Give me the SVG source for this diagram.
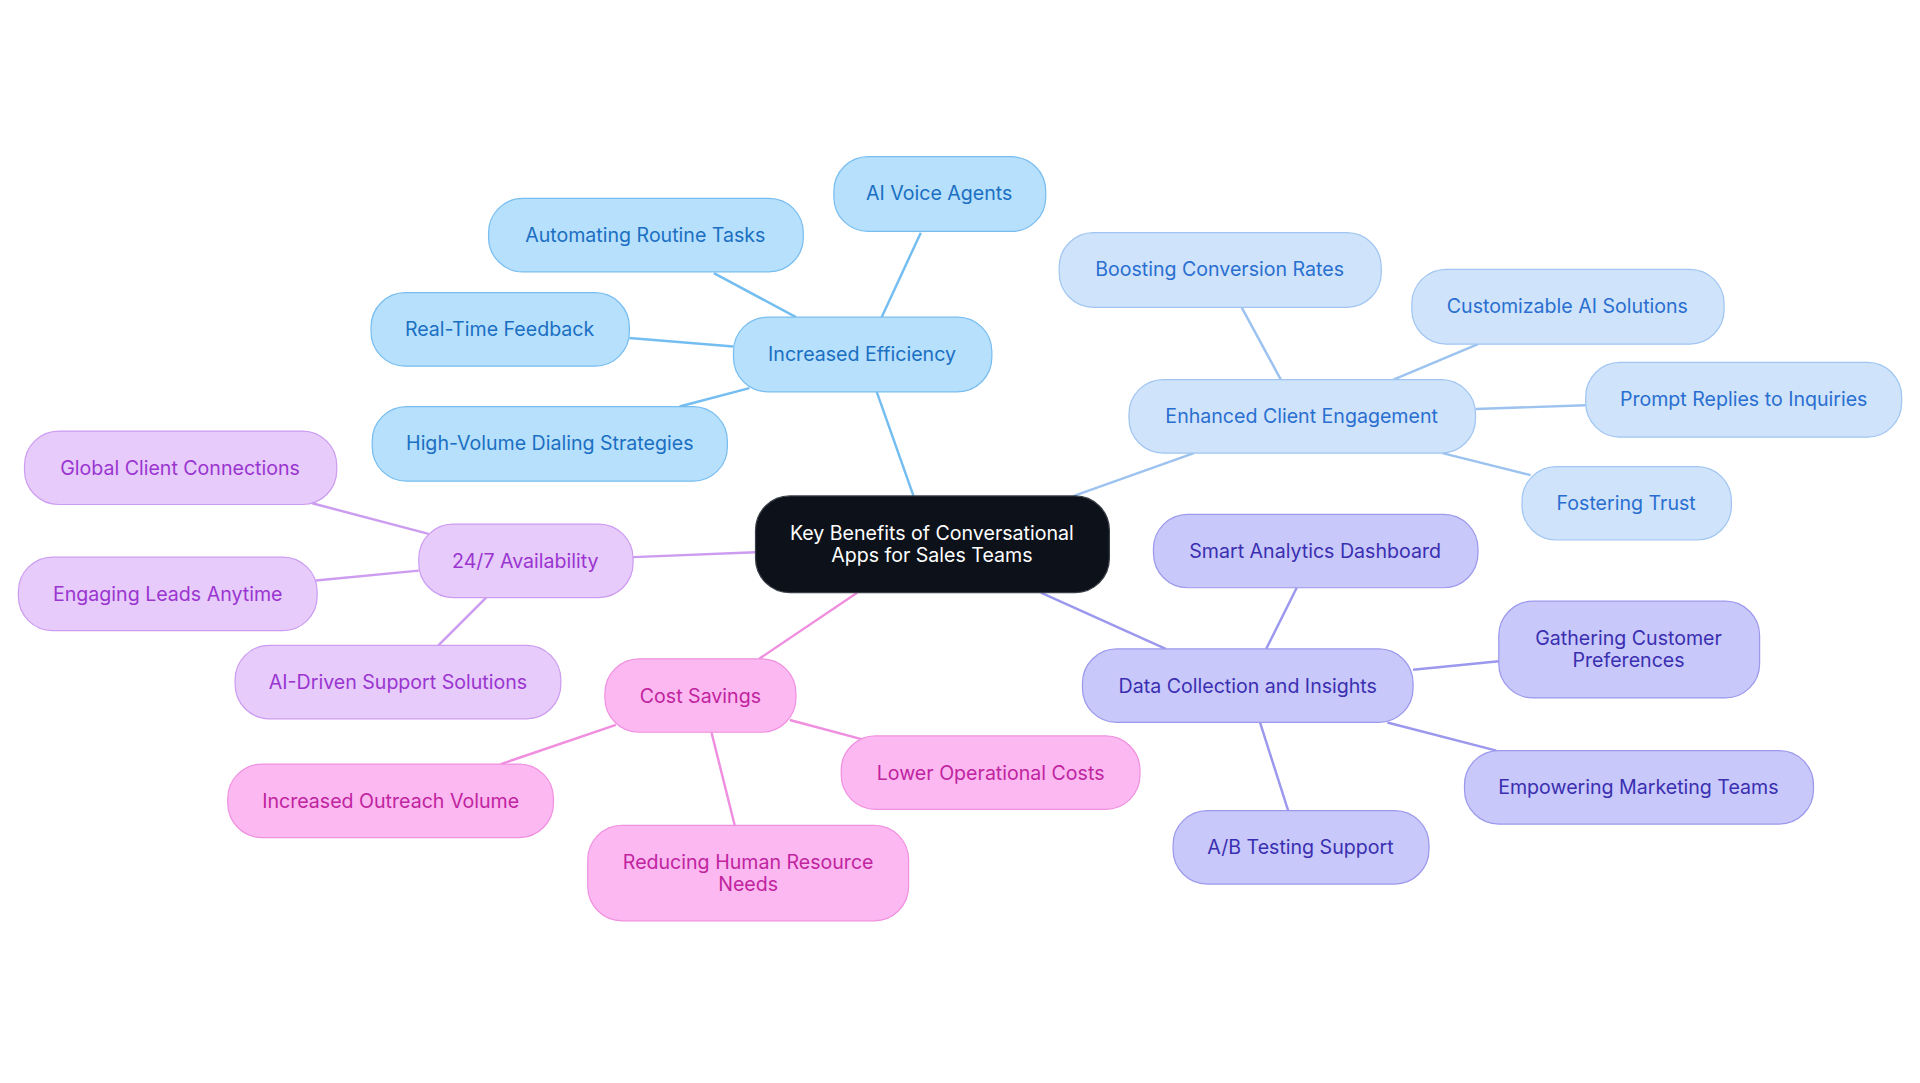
<svg xmlns="http://www.w3.org/2000/svg" width="1920" height="1083" viewBox="0 0 1920 1083">
<style>
text{font-family:Inter,"Noto Sans","Liberation Sans",sans-serif;font-size:16px;text-anchor:middle;dominant-baseline:central}
rect{stroke-width:1}
.c0 rect{fill:#0d121a;stroke:#3a3f47}.c0 text{fill:#fff}
.b rect{fill:#b6e0fc;stroke:#78bdf0}.b text{fill:#1b6fc2}
.l rect{fill:#cfe3fb;stroke:#a0c5f1}.l text{fill:#2a6fd0}
.d rect{fill:#c8c8fb;stroke:#9c98ec}.d text{fill:#3a2fb0}
.p rect{fill:#fcb8f1;stroke:#f090e0}.p text{fill:#c0249f}
.v rect{fill:#e6cbfb;stroke:#cc9cf0}.v text{fill:#9a35d0}
#edges line{stroke-width:2}
</style>
<rect width="1920" height="1083" fill="#fff"/>
<g transform="scale(1.2245)">
<g id="edges">
<g stroke="#74bdf0"><line x1="746" y1="405" x2="716" y2="320"/><line x1="720" y1="259" x2="752" y2="190"/><line x1="650" y1="259" x2="583" y2="223"/><line x1="599" y1="283" x2="514" y2="276"/><line x1="612" y1="317" x2="555" y2="332"/></g>
<g stroke="#9cc3f0"><line x1="877" y1="405" x2="975" y2="370"/><line x1="1046" y1="310" x2="1014" y2="251"/><line x1="1138" y1="310" x2="1207" y2="281"/><line x1="1205" y1="334" x2="1295" y2="331"/><line x1="1178" y1="370" x2="1250" y2="388"/></g>
<g stroke="#9b98ee"><line x1="850" y1="484" x2="952" y2="530"/><line x1="1034" y1="530" x2="1059" y2="480"/><line x1="1154" y1="547" x2="1224" y2="540"/><line x1="1133" y1="590" x2="1222" y2="613"/><line x1="1029" y1="590" x2="1052" y2="662"/></g>
<g stroke="#f08ee0"><line x1="700" y1="484" x2="620" y2="538"/><line x1="645" y1="588" x2="705" y2="604"/><line x1="503" y1="592" x2="409" y2="624"/><line x1="581" y1="598" x2="600" y2="674"/></g>
<g stroke="#cc9cf0"><line x1="617" y1="451" x2="517" y2="455"/><line x1="350" y1="436" x2="255" y2="411"/><line x1="342" y1="466" x2="258" y2="474"/><line x1="397" y1="488" x2="358" y2="527"/></g>
</g>
<g id="center" class="c0"><rect x="617" y="405" width="289" height="79" rx="28"/><text x="761" y="435">Key Benefits of Conversational</text><text x="761" y="453">Apps for Sales Teams</text></g>
<g id="eff" class="b"><rect x="599" y="259" width="211" height="61" rx="28"/><text x="704" y="289">Increased Efficiency</text></g>
<g id="voice" class="b"><rect x="681" y="128" width="173" height="61" rx="28"/><text x="767" y="158">AI Voice Agents</text></g>
<g id="auto" class="b"><rect x="399" y="162" width="257" height="60" rx="28"/><text x="527" y="192">Automating Routine Tasks</text></g>
<g id="rtf" class="b"><rect x="303" y="239" width="211" height="60" rx="28"/><text x="408" y="269">Real-Time Feedback</text></g>
<g id="hvd" class="b"><rect x="304" y="332" width="290" height="61" rx="28"/><text x="449" y="362">High-Volume Dialing Strategies</text></g>
<g id="ece" class="l"><rect x="922" y="310" width="283" height="60" rx="28"/><text x="1063" y="340">Enhanced Client Engagement</text></g>
<g id="bcr" class="l"><rect x="865" y="190" width="263" height="61" rx="28"/><text x="996" y="220">Boosting Conversion Rates</text></g>
<g id="cas" class="l"><rect x="1153" y="220" width="255" height="61" rx="28"/><text x="1280" y="250">Customizable AI Solutions</text></g>
<g id="pri" class="l"><rect x="1295" y="296" width="258" height="61" rx="28"/><text x="1424" y="326">Prompt Replies to Inquiries</text></g>
<g id="ft" class="l"><rect x="1243" y="381" width="171" height="60" rx="28"/><text x="1328" y="411">Fostering Trust</text></g>
<g id="dci" class="d"><rect x="884" y="530" width="270" height="60" rx="28"/><text x="1019" y="560">Data Collection and Insights</text></g>
<g id="sad" class="d"><rect x="942" y="420" width="265" height="60" rx="28"/><text x="1074" y="450">Smart Analytics Dashboard</text></g>
<g id="gcp" class="d"><rect x="1224" y="491" width="213" height="79" rx="28"/><text x="1330" y="521">Gathering Customer</text><text x="1330" y="539">Preferences</text></g>
<g id="emt" class="d"><rect x="1196" y="613" width="285" height="60" rx="28"/><text x="1338" y="643">Empowering Marketing Teams</text></g>
<g id="ab" class="d"><rect x="958" y="662" width="209" height="60" rx="28"/><text x="1062" y="692">A/B Testing Support</text></g>
<g id="cs" class="p"><rect x="494" y="538" width="156" height="60" rx="28"/><text x="572" y="568">Cost Savings</text></g>
<g id="loc" class="p"><rect x="687" y="601" width="244" height="60" rx="28"/><text x="809" y="631">Lower Operational Costs</text></g>
<g id="iov" class="p"><rect x="186" y="624" width="266" height="60" rx="28"/><text x="319" y="654">Increased Outreach Volume</text></g>
<g id="rhr" class="p"><rect x="480" y="674" width="262" height="78" rx="28"/><text x="611" y="704">Reducing Human Resource</text><text x="611" y="722">Needs</text></g>
<g id="av" class="v"><rect x="342" y="428" width="175" height="60" rx="28"/><text x="429" y="458">24/7 Availability</text></g>
<g id="gcc" class="v"><rect x="20" y="352" width="255" height="60" rx="28"/><text x="147" y="382">Global Client Connections</text></g>
<g id="ela" class="v"><rect x="15" y="455" width="244" height="60" rx="28"/><text x="137" y="485">Engaging Leads Anytime</text></g>
<g id="ads" class="v"><rect x="192" y="527" width="266" height="60" rx="28"/><text x="325" y="557">AI-Driven Support Solutions</text></g>
</g>
</svg>
